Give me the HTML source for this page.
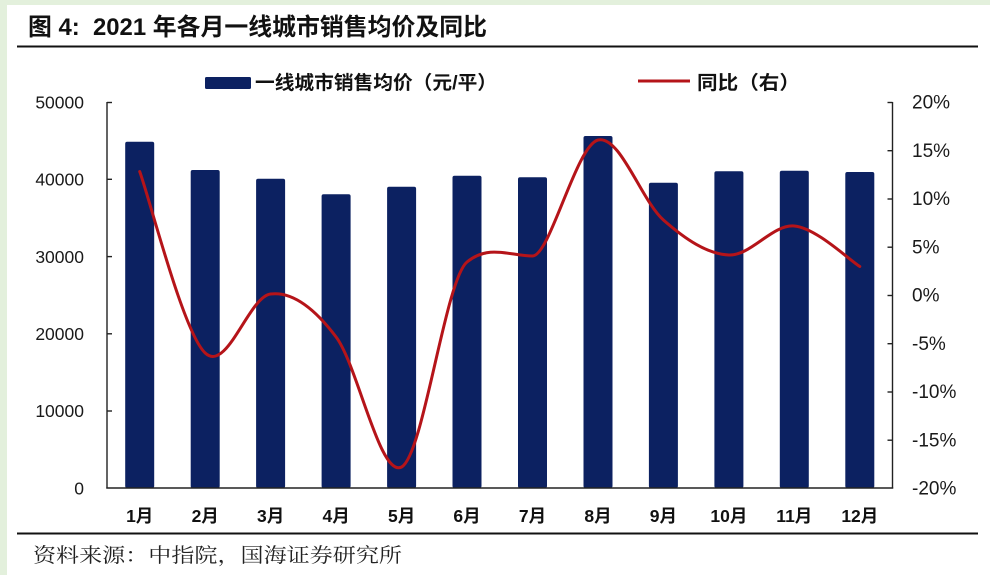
<!DOCTYPE html>
<html>
<head>
<meta charset="utf-8">
<style>
  html, body { margin:0; padding:0; background:#e3f0dc; }
  body { width:990px; height:575px; overflow:hidden; position:relative; }
  .panel { position:absolute; left:7px; top:5px; width:983px; height:570px; background:#ffffff; }
  svg { position:absolute; left:0; top:0; }
</style>
</head>
<body>
<div class="panel"></div>
<svg width="990" height="575" viewBox="0 0 990 575" xmlns="http://www.w3.org/2000/svg">
  <!-- Title -->
  <text x="28" y="35" font-family="Liberation Sans, Noto Sans CJK SC, sans-serif" font-weight="bold" font-size="24" fill="#111" xml:space="preserve" textLength="459" lengthAdjust="spacingAndGlyphs">图 4:  2021 年各月一线城市销售均价及同比</text>
  <line x1="17" y1="46.5" x2="978" y2="46.5" stroke="#111" stroke-width="2"/>

  <!-- Legend -->
  <rect x="205" y="77" width="46" height="12" rx="1.5" fill="#0c2161"/>
  <text x="255" y="89" font-family="Liberation Sans, Noto Sans CJK SC, sans-serif" font-weight="bold" font-size="19" fill="#111" textLength="242" lengthAdjust="spacingAndGlyphs">一线城市销售均价（元/平）</text>
  <line x1="638" y1="81" x2="690" y2="81" stroke="#b51419" stroke-width="3"/>
  <text x="697" y="89" font-family="Liberation Sans, Noto Sans CJK SC, sans-serif" font-weight="bold" font-size="19" fill="#111" textLength="103" lengthAdjust="spacingAndGlyphs">同比（右）</text>

  <!-- Bars -->
  <g fill="#0c2161">
    <rect x="125.2" y="141.7" width="29" height="346.3" rx="2"/>
    <rect x="190.7" y="170" width="29" height="318" rx="2"/>
    <rect x="256.1" y="178.7" width="29" height="309.3" rx="2"/>
    <rect x="321.6" y="194.3" width="29" height="293.7" rx="2"/>
    <rect x="387.1" y="186.7" width="29" height="301.3" rx="2"/>
    <rect x="452.5" y="175.7" width="29" height="312.3" rx="2"/>
    <rect x="518" y="177.3" width="29" height="310.7" rx="2"/>
    <rect x="583.5" y="136" width="29" height="352" rx="2"/>
    <rect x="648.9" y="182.7" width="29" height="305.3" rx="2"/>
    <rect x="714.4" y="171.3" width="29" height="316.7" rx="2"/>
    <rect x="779.8" y="170.7" width="29" height="317.3" rx="2"/>
    <rect x="845.3" y="172" width="29" height="316" rx="2"/>
  </g>

  <!-- Line -->
  <path d="M139.7,171.5 C150.61,201.75 183.38,332.58 205.2,353
           C227.02,373.42 248.78,296.67 270.6,294
           C292.42,291.33 314.28,308 336.1,337
           C357.92,366 379.78,478 401.6,467
           C423.42,455.17 445.18,280 467,262
           C488.82,244 510.68,256 532.5,256
           C550,256 576.18,145.5 598,140
           C619.82,134.5 641.58,200.83 663.4,220
           C685.22,239.17 707.08,254 728.9,255
           C750.72,256 772.48,224.08 794.3,226
           C816.12,227.92 848.89,259.75 859.8,266.5"
        fill="none" stroke="#b51419" stroke-width="3" stroke-linejoin="round" stroke-linecap="round"/>

  <!-- Axes -->
  <g stroke="#222" stroke-width="1.4" fill="none">
    <line x1="107" y1="102" x2="107" y2="488.5"/>
    <line x1="892.5" y1="102" x2="892.5" y2="488.5"/>
    <line x1="106.3" y1="488" x2="893.2" y2="488"/>
    <line x1="107" y1="102.5" x2="112" y2="102.5"/>
    <line x1="107" y1="179.3" x2="112" y2="179.3"/>
    <line x1="107" y1="256.6" x2="112" y2="256.6"/>
    <line x1="107" y1="333.8" x2="112" y2="333.8"/>
    <line x1="107" y1="411" x2="112" y2="411"/>
    <line x1="887.5" y1="102.5" x2="892.5" y2="102.5"/>
    <line x1="887.5" y1="150.7" x2="892.5" y2="150.7"/>
    <line x1="887.5" y1="199" x2="892.5" y2="199"/>
    <line x1="887.5" y1="247.2" x2="892.5" y2="247.2"/>
    <line x1="887.5" y1="295.5" x2="892.5" y2="295.5"/>
    <line x1="887.5" y1="343.7" x2="892.5" y2="343.7"/>
    <line x1="887.5" y1="392" x2="892.5" y2="392"/>
    <line x1="887.5" y1="440.2" x2="892.5" y2="440.2"/>
  </g>

  <!-- Left tick labels -->
  <g font-family="Liberation Sans, sans-serif" font-size="17.5" fill="#1a1a1a" text-anchor="end">
    <text x="84" y="108.5">50000</text>
    <text x="84" y="185.5">40000</text>
    <text x="84" y="262.8">30000</text>
    <text x="84" y="340">20000</text>
    <text x="84" y="417.2">10000</text>
    <text x="84" y="494.5">0</text>
  </g>

  <!-- Right tick labels -->
  <g font-family="Liberation Sans, sans-serif" font-size="19" fill="#1a1a1a">
    <text x="912" y="108.5">20%</text>
    <text x="912" y="156.8">15%</text>
    <text x="912" y="205">10%</text>
    <text x="912" y="253.3">5%</text>
    <text x="912" y="301.5">0%</text>
    <text x="912" y="349.8">-5%</text>
    <text x="912" y="398">-10%</text>
    <text x="912" y="446.3">-15%</text>
    <text x="912" y="494.5">-20%</text>
  </g>

  <!-- Category labels -->
  <g font-family="Liberation Sans, Noto Sans CJK SC, sans-serif" font-weight="bold" font-size="17.5" fill="#111" text-anchor="middle">
    <text x="139.7" y="522">1月</text>
    <text x="205.2" y="522">2月</text>
    <text x="270.6" y="522">3月</text>
    <text x="336.1" y="522">4月</text>
    <text x="401.6" y="522">5月</text>
    <text x="467" y="522">6月</text>
    <text x="532.5" y="522">7月</text>
    <text x="598" y="522">8月</text>
    <text x="663.4" y="522">9月</text>
    <text x="728.9" y="522">10月</text>
    <text x="794.3" y="522">11月</text>
    <text x="859.8" y="522">12月</text>
  </g>

  <!-- Bottom rule and source -->
  <line x1="17" y1="533.5" x2="978" y2="533.5" stroke="#111" stroke-width="2"/>
  <text x="33" y="562" font-family="Liberation Serif, Noto Serif CJK SC, serif" font-size="20" fill="#222" textLength="369" lengthAdjust="spacingAndGlyphs">资料来源：中指院，国海证券研究所</text>
</svg>
</body>
</html>
